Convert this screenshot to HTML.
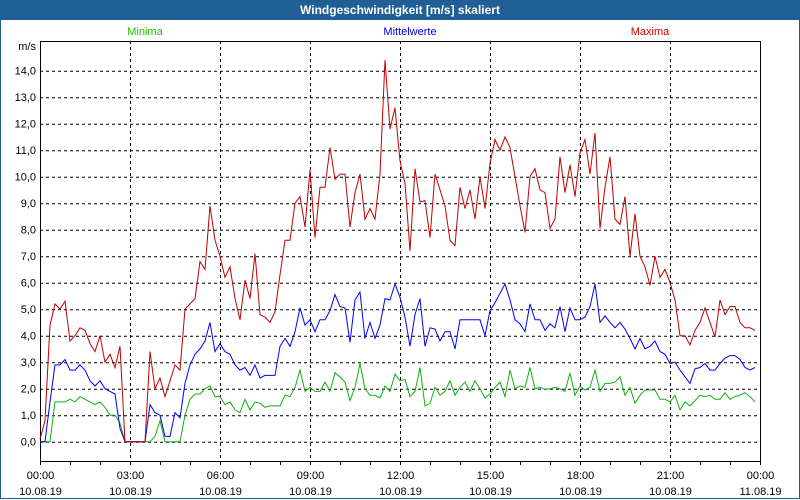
<!DOCTYPE html>
<html><head><meta charset="utf-8"><style>
body{margin:0;width:800px;height:500px;overflow:hidden;background:#fff;font-family:"Liberation Sans",sans-serif}
#frame{position:absolute;left:0;top:0;width:798px;height:498px;border:1px solid #1f5f96;border-top:none}
#title{position:absolute;left:0;top:0;width:800px;height:20px;background:#1f5f96;color:#fff;font-weight:bold;font-size:12px;line-height:20px;text-align:center}
svg{position:absolute;left:0;top:0}
</style></head><body>
<div id="frame"></div>
<div id="title">Windgeschwindigkeit [m/s] skaliert</div>
<svg id="chart" width="800" height="500"></svg>
<script>
const yTicks=[0,1,2,3,4,5,6,7,8,9,10,11,12,13,14];
const xTickLabels=["00:00","03:00","06:00","09:00","12:00","15:00","18:00","21:00","00:00"];
const xDateLabels=["10.08.19","10.08.19","10.08.19","10.08.19","10.08.19","10.08.19","10.08.19","10.08.19","11.08.19"];
const maxima=[0.1,0.8,4.4,5.2,5.0,5.3,3.8,4.0,4.3,4.2,3.7,3.4,4.0,3.0,3.3,2.8,3.6,0,0,0,0,0,3.4,2.0,2.4,1.7,2.3,2.9,2.7,5.0,5.2,5.4,6.8,6.5,8.9,7.6,7.0,6.2,6.6,5.4,4.6,6.1,5.4,7.1,4.8,4.7,4.5,4.9,6.3,7.6,7.6,9.0,9.25,8.1,10.25,7.7,9.6,9.6,11.1,9.9,10.1,10.1,8.1,9.4,10.1,8.4,8.8,8.4,10.1,14.4,11.8,12.6,10.6,9.75,7.2,10.3,9.05,9.1,7.7,10.1,9.5,8.9,7.6,7.4,9.6,8.8,9.5,8.4,10.0,8.8,10.5,11.4,11.0,11.5,11.1,10.0,8.9,7.9,10.0,10.3,9.5,9.4,8.05,8.4,10.75,9.4,10.45,9.25,10.9,11.4,10.1,11.65,8.05,9.6,10.75,8.4,8.2,9.25,7.0,8.6,7.0,6.6,5.9,7.0,6.2,6.5,6.0,5.35,4.0,4.0,3.65,4.2,4.5,5.05,4.5,3.95,5.35,4.8,5.1,5.1,4.5,4.3,4.3,4.2];
const mittel=[0,0,1.5,2.9,2.9,3.1,2.7,2.7,2.9,2.7,2.3,2.1,2.3,2.0,1.9,1.8,0.5,0,0,0,0,0,1.4,1.1,1.0,0.2,0.2,1.1,0.9,2.2,2.9,3.3,3.5,3.8,4.5,3.4,3.7,3.4,3.3,2.9,2.7,2.8,2.5,2.9,2.4,2.5,2.5,2.5,3.6,3.9,3.6,4.15,5.05,4.4,4.6,4.15,4.6,4.6,4.95,5.55,5.1,5.05,3.75,5.35,5.65,3.9,4.5,3.9,4.4,5.4,5.35,5.95,5.45,4.7,3.6,4.8,5.4,3.6,4.3,4.25,3.8,4.15,4.15,3.5,4.6,4.6,4.6,4.6,4.6,4.0,4.95,5.25,5.6,5.95,5.35,4.6,4.45,4.15,5.2,4.6,4.6,4.2,4.45,4.3,5.1,4.15,5.05,4.6,4.6,4.7,5.1,5.95,4.5,4.75,4.5,4.3,4.5,4.25,3.9,3.5,3.9,3.5,3.6,3.8,3.4,3.3,2.95,3.0,2.7,2.45,2.2,2.75,2.8,2.95,2.7,2.7,2.95,3.15,3.25,3.25,3.1,2.8,2.7,2.8];
const minima=[0,0,0,1.5,1.5,1.5,1.6,1.5,1.7,1.6,1.5,1.4,1.5,1.3,1.0,1.0,0.7,0,0,0,0,0,0,0.2,0.8,0,0,0,0,1.0,1.6,1.8,1.8,2.0,2.1,1.7,1.7,1.4,1.5,1.2,1.1,1.6,1.2,1.5,1.45,1.3,1.35,1.35,1.35,1.75,1.7,2.05,2.7,1.9,2.05,1.9,1.9,2.25,1.9,2.6,2.45,2.25,1.55,2.05,2.95,2.0,1.75,1.75,1.65,2.1,1.9,2.55,2.3,2.35,1.7,1.9,2.8,1.35,1.45,2.05,1.75,1.9,2.3,1.75,2.05,2.25,1.9,2.3,2.0,1.65,1.8,2.05,2.25,1.7,2.7,2.0,2.1,2.05,2.8,2.0,2.05,1.98,2.0,2.05,2.0,1.9,2.6,1.75,2.1,1.95,2.05,2.7,1.9,2.2,2.2,2.25,2.45,1.75,2.05,1.45,1.75,1.95,1.95,1.95,1.6,1.6,1.5,1.75,1.2,1.5,1.35,1.55,1.75,1.7,1.75,1.6,1.6,1.85,1.6,1.7,1.75,1.85,1.7,1.5];

const L=40,R=760,T=41,B=461;
const y=v=>441.7-v*26.5;
const x=min=>L+min*(R-L)/1440;
const svg=document.getElementById('chart');
const NS='http://www.w3.org/2000/svg';
function mk(tag,attrs){const e=document.createElementNS(NS,tag);for(const k in attrs)e.setAttribute(k,attrs[k]);svg.appendChild(e);return e;}

// grid horizontal
yTicks.forEach(v=>{
  const g=mk('line',{x1:L,x2:R,y1:y(v)+0.5,y2:y(v)+0.5,stroke:'#000','stroke-dasharray':'3,3','stroke-width':1});
  
  
  const t=mk('text',{x:36,y:y(v)+4,'text-anchor':'end','font-size':11,fill:'#000'});
  t.textContent=v.toFixed(1).replace('.',',');
  
  
});
const unit=mk('text',{x:36,y:50,'text-anchor':'end','font-size':11});
unit.textContent='m/s';


// vertical grid
xTickLabels.forEach((lab,i)=>{
  const xx=Math.round(x(i*180))+0.5;
  if(i>0&&i<xTickLabels.length-1){
    const g=mk('line',{x1:xx,x2:xx,y1:T,y2:B,stroke:'#000','stroke-dasharray':'3,3'});
    
    
  }
  const t=mk('text',{x:xx,y:479,'text-anchor':'middle','font-size':11});
  t.textContent=lab;
  
  
  const d=mk('text',{x:xx,y:495,'text-anchor':'middle','font-size':11});
  d.textContent=xDateLabels[i];
  
  
});
for(let h=0;h<=24;h++){
  const xx=Math.round(x(h*60))+0.5;
  const tk=mk('line',{x1:xx,x2:xx,y1:B,y2:B+4,stroke:'#000'});
  
  
}
// frame
const fr=mk('path',{d:`M${L+0.5},${B} V${T+0.5} H${R+0.5} V${B+0.5} H${L}`,fill:'none',stroke:'#000'});


// series
function series(arr,col,name){
  const pts=arr.map((v,i)=>x(i*10).toFixed(1)+','+y(v).toFixed(1)).join(' ');
  const p=mk('polyline',{points:pts,fill:'none',stroke:col,'stroke-width':1});
  
  
}
series(minima,'#10b010','minima-line');
series(mittel,'#0000ff','mittelwerte-line');
series(maxima,'#c00000','maxima-line');
// legend
[['Minima','#22bb00',145,'legend-minima'],['Mittelwerte','#0000ee',410,'legend-mittelwerte'],['Maxima','#cc0000',650,'legend-maxima']].forEach(a=>{
  const t=mk('text',{x:a[2],y:35,'text-anchor':'middle','font-size':11,fill:a[1]});
  t.textContent=a[0];
  
  
});
</script>
</body></html>
